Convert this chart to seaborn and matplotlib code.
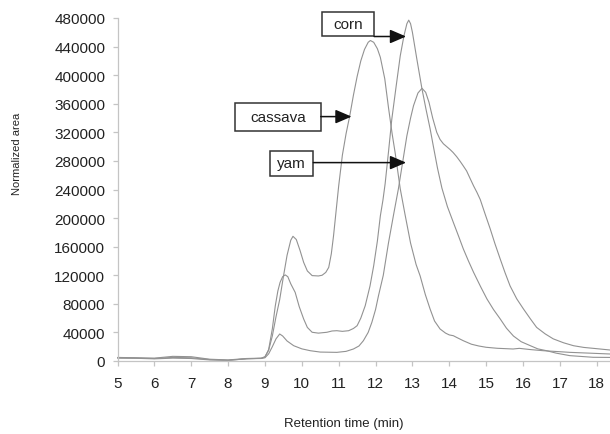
import matplotlib
matplotlib.use("Agg")
import matplotlib.pyplot as plt
import seaborn as sns
import pandas as pd
from matplotlib.patches import Rectangle
from matplotlib.ticker import FuncFormatter

# ---------------- data ----------------
cassava_t = [5.0, 5.5, 6.0, 6.5, 7.0, 7.5, 8.0, 8.5, 8.9, 9.0, 9.1, 9.2, 9.3, 9.4, 9.5, 9.6, 9.7, 9.76,
             9.85, 9.95, 10.05, 10.15, 10.28, 10.45, 10.55, 10.65, 10.73, 10.8, 10.86, 10.91, 11.0, 11.1,
             11.2, 11.3, 11.4, 11.5, 11.6, 11.7, 11.8, 11.86, 11.95, 12.05, 12.13, 12.25, 12.35, 12.45,
             12.53, 12.67, 12.8, 12.95, 13.1, 13.21, 13.35, 13.48, 13.6, 13.75, 13.9, 14.0, 14.11, 14.2,
             14.38, 14.6, 14.8, 15.0, 15.3, 15.73, 15.9, 16.2, 16.55, 17.0, 17.27, 17.8, 18.36]
cassava_area = [4500, 4200, 4000, 6500, 6000, 2500, 1500, 3500, 4000, 6000, 15000, 35000, 62000, 86000,
                118000, 148000, 169000, 174500, 170000, 155000, 138000, 126000, 119500, 119000, 120000,
                124000, 131000, 150000, 175000, 200000, 245000, 288000, 318000, 343000, 372000, 398000,
                420000, 436000, 446000, 448500, 446000, 437000, 425000, 395000, 355000, 318000, 292000,
                241000, 205000, 165000, 135000, 119000, 93000, 72700, 56000, 44800, 39000, 36500, 35400,
                33000, 28400, 23500, 21000, 19200, 17800, 16800, 17700, 16000, 14400, 13000, 12100, 11000,
                9800]

corn_t = [5.0, 5.5, 6.0, 6.5, 7.0, 7.5, 8.0, 8.5, 8.9, 9.0, 9.1, 9.2, 9.28, 9.35, 9.41, 9.48, 9.55, 9.62,
          9.7, 9.82, 9.93, 10.05, 10.15, 10.28, 10.45, 10.68, 10.82, 10.95, 11.1, 11.27, 11.4, 11.5, 11.6,
          11.72, 11.85, 11.95, 12.05, 12.13, 12.2, 12.26, 12.35, 12.44, 12.56, 12.67, 12.77, 12.85, 12.9,
          12.95, 13.0, 13.12, 13.26, 13.37, 13.48, 13.57, 13.68, 13.8, 13.95, 14.11, 14.25, 14.38, 14.52,
          14.66, 14.85, 15.02, 15.2, 15.38, 15.55, 15.74, 15.95, 16.2, 16.4, 16.64, 16.9, 17.27, 17.9,
          18.36]
corn_area = [5000, 4500, 3500, 5000, 4500, 2000, 1000, 3000, 3800, 5500, 16000, 45000, 77000, 98000,
             110000, 118000, 120500, 118000, 108000, 96000, 76000, 58800, 47000, 40200, 39000, 40200,
             42000, 42400, 41500, 42400, 45500, 49400, 60000, 77400, 105000, 133400, 168000, 203000,
             225000, 248000, 292000, 338000, 385000, 427000, 455000, 472000, 477000, 472000, 460000,
             422600, 380600, 352000, 325000, 300000, 270000, 242000, 216000, 194000, 175000, 157000,
             140000, 124000, 104000, 87000, 72000, 59000, 46000, 35000, 27000, 21400, 17000, 14400,
             11000, 7500, 5200, 5000]

yam_t = [5.0, 5.5, 6.0, 6.5, 7.0, 7.5, 8.0, 8.5, 8.9, 9.0, 9.1, 9.2, 9.3, 9.4, 9.48, 9.6, 9.78, 10.0,
         10.23, 10.5, 10.95, 11.2, 11.4, 11.55, 11.67, 11.8, 11.9, 12.0, 12.08, 12.21, 12.35, 12.49,
         12.62, 12.72, 12.85, 12.95, 13.03, 13.15, 13.26, 13.36, 13.45, 13.55, 13.66, 13.75, 13.84,
         13.93, 14.02, 14.1, 14.2, 14.3, 14.38, 14.47, 14.56, 14.66, 14.75, 14.84, 14.97, 15.11, 15.24,
         15.38, 15.51, 15.65, 15.83, 16.01, 16.2, 16.37, 16.6, 16.82, 17.1, 17.37, 17.65, 17.91, 18.36]
yam_area = [4000, 3800, 3000, 4000, 3500, 1500, 800, 3200, 3500, 4500, 10000, 20000, 31000, 37800, 35000,
            28000, 21400, 17000, 14400, 12500, 12100, 13500, 16800, 21000, 28400, 40000, 54100, 72000,
            91400, 120000, 165000, 205000, 241000, 273300, 315200, 340000, 357300, 375000, 381600,
            376000, 362000, 340000, 320000, 310000, 304000, 300000, 296000, 292000, 286000, 279000,
            273000, 266000, 256000, 245000, 236000, 226000, 206000, 185000, 164000, 143000, 124000,
            105000, 87000, 73000, 59000, 47000, 38000, 31000, 25500, 21400, 19000, 17700, 15400]

series_names = ["cassava", "corn", "yam"]
x_ticks = list(range(5, 19))
y_ticks = list(range(0, 480001, 40000))
x_label = "Retention time (min)"
y_label = "Normalized area"

# ---------------- style ----------------
sns.set_theme(style="white")
plt.rcParams["font.family"] = ["Liberation Sans", "DejaVu Sans"]

W, H = 610, 435
fig = plt.figure(figsize=(W / 100, H / 100), dpi=100)
ax_l, ax_r, ax_t, ax_b = 117.5, 610.0, 19.0, 362.0
ax = fig.add_axes([ax_l / W, 1 - ax_b / H, (ax_r - ax_l) / W, (ax_b - ax_t) / H])

line_color = "#929292"
frames = {
    "cassava": pd.DataFrame({"t": cassava_t, "area": cassava_area}),
    "corn": pd.DataFrame({"t": corn_t, "area": corn_area}),
    "yam": pd.DataFrame({"t": yam_t, "area": yam_area}),
}
for name in series_names:
    sns.lineplot(data=frames[name], x="t", y="area", ax=ax, color=line_color,
                 linewidth=0.8, estimator=None, sort=False, clip_on=False)

ax.set_xlim(5, 18.36)
ax.set_ylim(0, 480000)
ax.set_xticks(x_ticks)
ax.set_yticks(y_ticks)
ax.yaxis.set_major_formatter(FuncFormatter(lambda v, p: f"{int(v)}"))

for s in ["top", "right"]:
    ax.spines[s].set_visible(False)
for s in ["left", "bottom"]:
    ax.spines[s].set_color("#c4c4c4")
    ax.spines[s].set_linewidth(0.9)

ax.tick_params(axis="x", direction="out", length=3.3, width=0.9, color="#c4c4c4",
               pad=7.5, labelsize=11, labelcolor="#222222", bottom=True)
ax.tick_params(axis="y", direction="out", length=3.3, width=0.9, color="#c4c4c4",
               pad=5.5, labelsize=11, labelcolor="#222222", left=True)

ax.set_xlabel(x_label, fontsize=9.5, color="#222222")
ax.set_ylabel(y_label, fontsize=8, color="#222222")
axw, axh = ax_r - ax_l, ax_b - ax_t
ax.xaxis.set_label_coords((343.5 - ax_l) / axw, (ax_b - 418.5) / axh)
ax.xaxis.label.set_va("top")
ax.yaxis.set_label_coords((17.5 - ax_l) / axw, (ax_b - 154) / axh)
ax.yaxis.label.set_va("center")

# ---------------- label boxes with arrows ----------------
def px_to_ax(px, py):
    return (px - ax_l) / axw, (ax_b - py) / axh

def px_to_data(px, py):
    return 5 + (px - ax_l) / 36.85, (ax_b - py) * 480000 / axh

boxes = [  # name, box left, top, right, bottom (pixels), arrow y, arrow tip x
    ("corn", 321.7, 13.3, 374.0, 37.3, 37.5, 406.0),
    ("cassava", 235.0, 104.3, 320.7, 131.7, 117.6, 351.5),
    ("yam", 270.0, 151.7, 313.3, 176.7, 163.6, 406.0),
]
for name, l, t, r, b, ay, tipx in boxes:
    x0, y0 = px_to_ax(l, b)
    x1, y1 = px_to_ax(r, t)
    ax.add_patch(Rectangle((x0, y0), x1 - x0, y1 - y0, transform=ax.transAxes,
                           facecolor="white", edgecolor="#333333", linewidth=1.1,
                           clip_on=False, zorder=5))
    ax.text((x0 + x1) / 2, (y0 + y1) / 2, name, transform=ax.transAxes, ha="center",
            va="center", fontsize=11, color="#222222", zorder=6)
    ax.annotate("", xy=px_to_data(tipx, ay), xytext=px_to_data(r, ay),
                xycoords="data", textcoords="data",
                arrowprops=dict(arrowstyle="-|>,head_length=0.7,head_width=0.3",
                                color="#111111", lw=1.1, mutation_scale=14,
                                shrinkA=0, shrinkB=0), zorder=6, annotation_clip=False)

fig.savefig("out.png", dpi=100)
